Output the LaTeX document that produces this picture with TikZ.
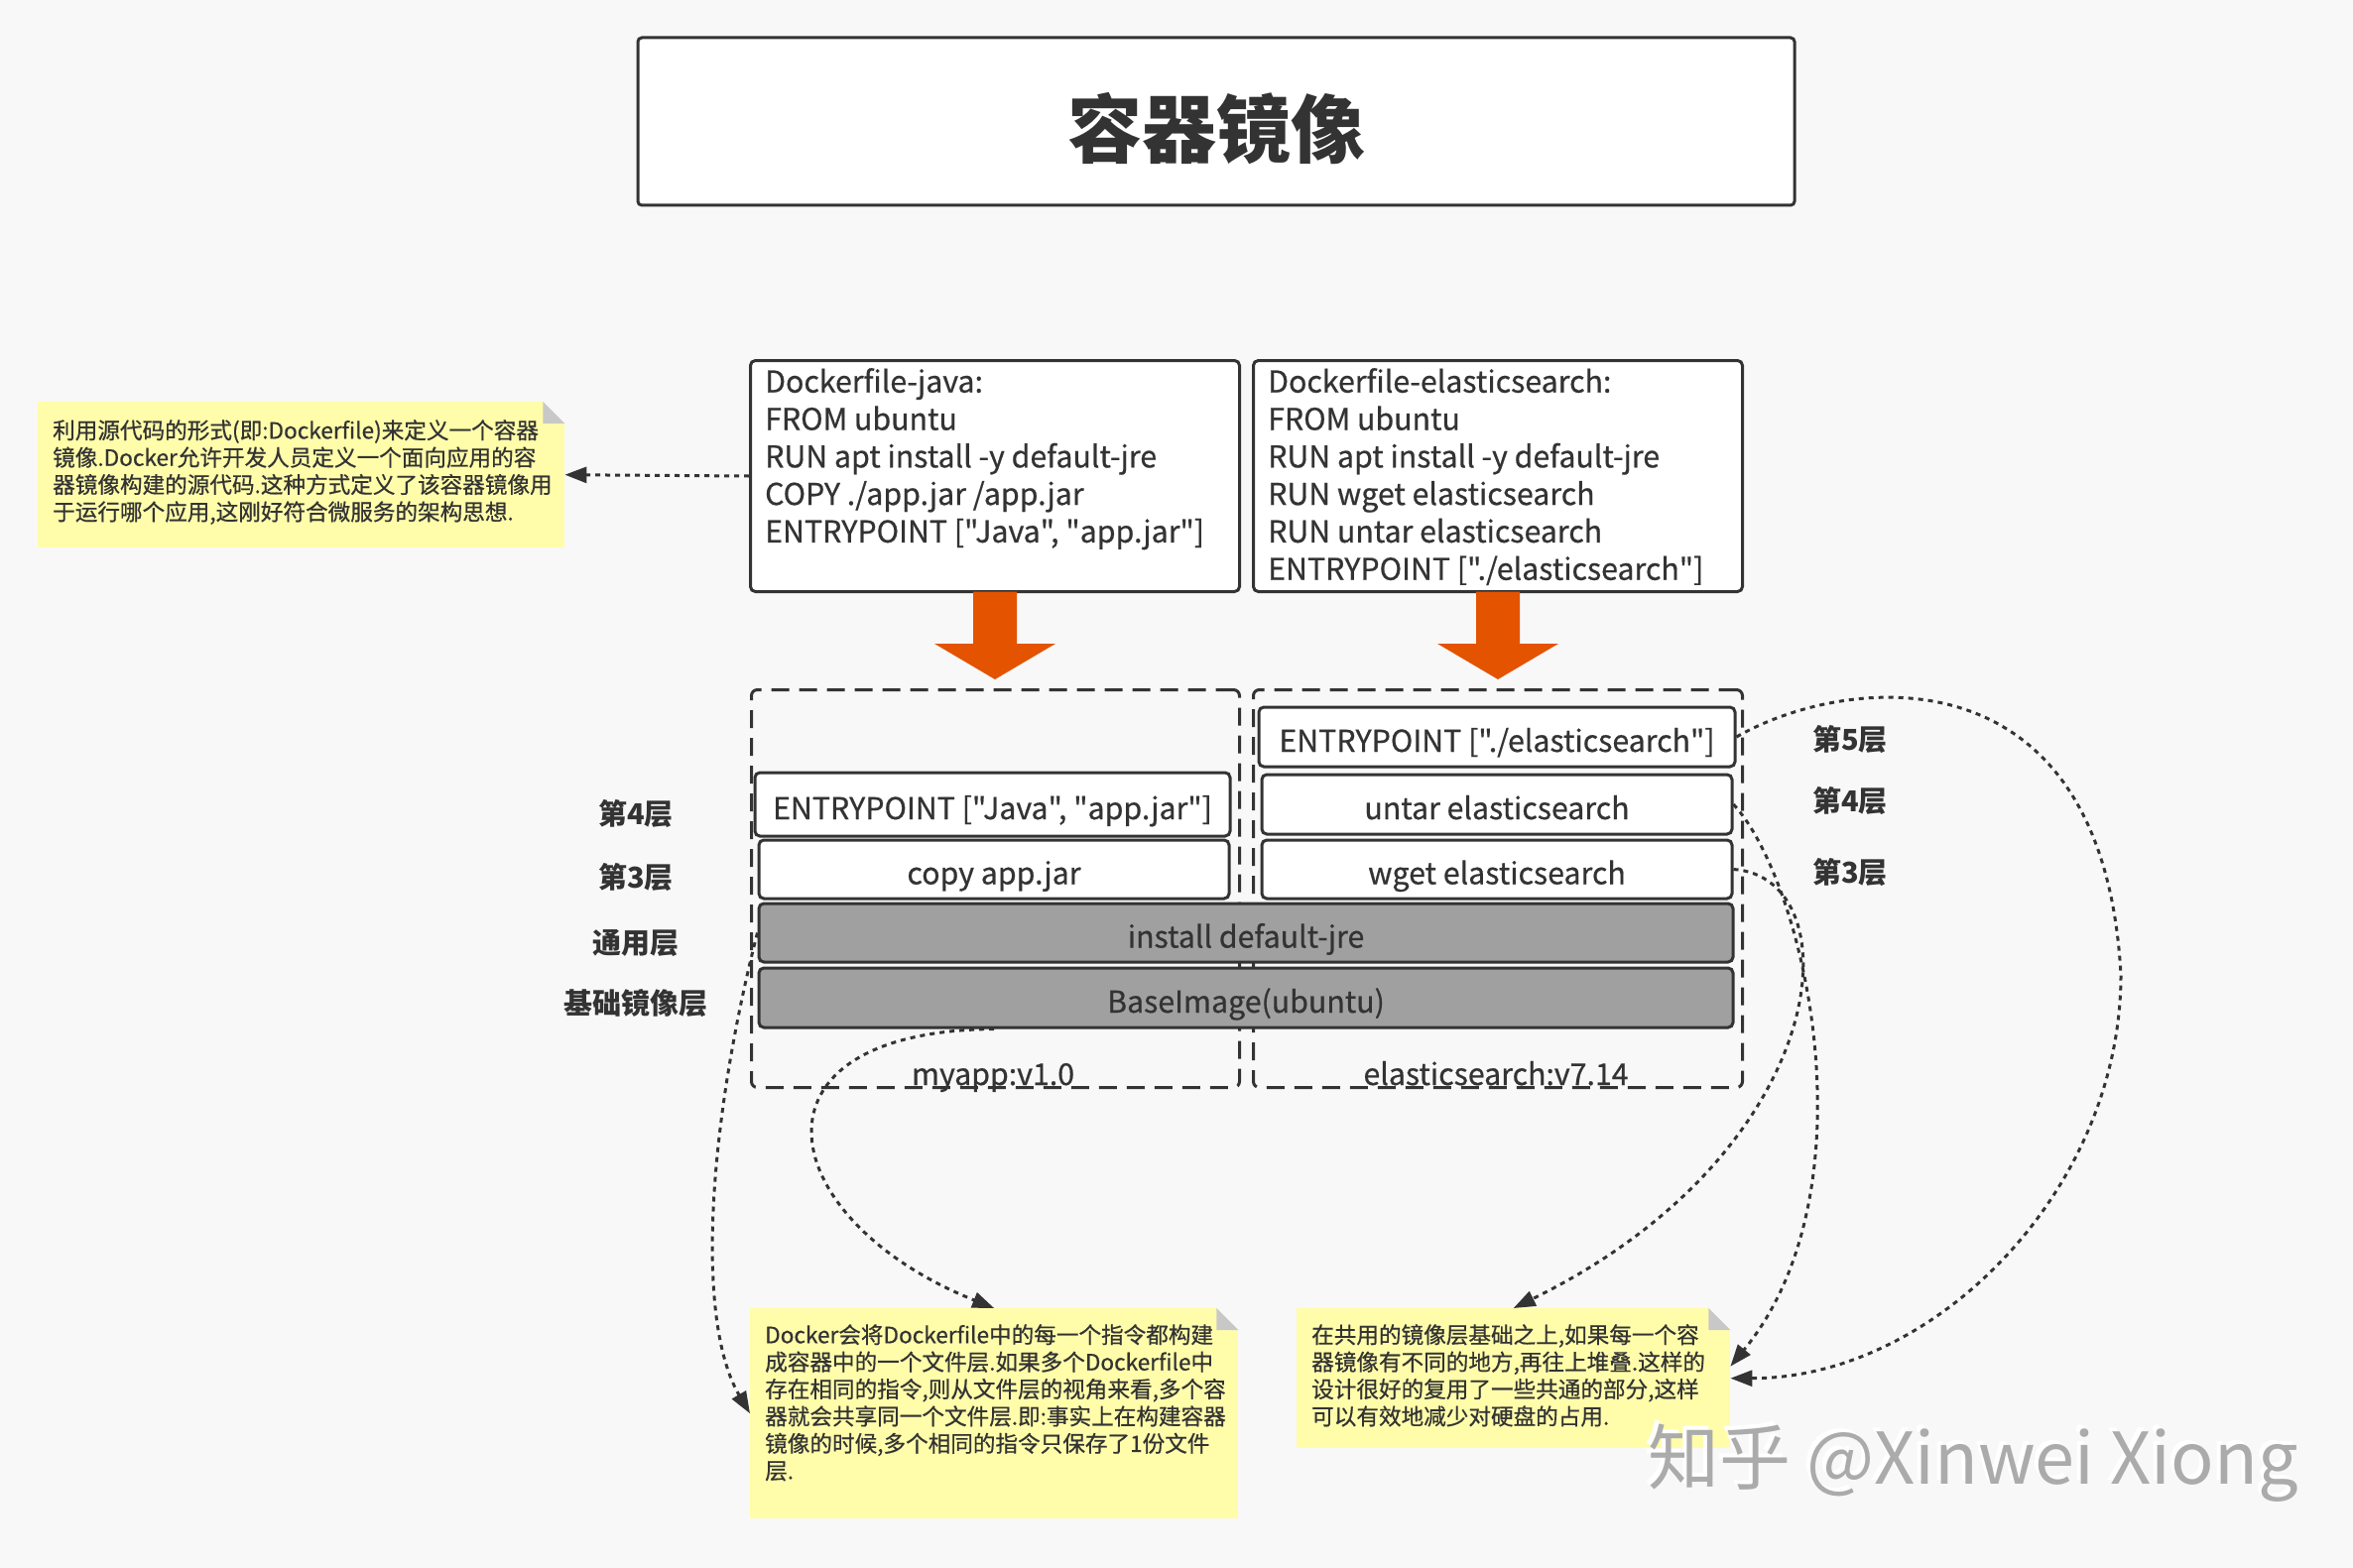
\documentclass[tikz,border=0pt]{standalone}
\usepackage{fontspec}
\setmainfont{Noto Sans CJK SC}[Ligatures=TeXOff]
\newfontfamily\medfont{Noto Sans CJK SC}[Ligatures=TeXOff, FakeBold=0.6]
\usetikzlibrary{arrows.meta,calc}
\definecolor{bg}{HTML}{F8F8F8}
\definecolor{ink}{HTML}{333333}
\definecolor{notey}{HTML}{FFFDAA}
\definecolor{foldgray}{HTML}{C8C8C8}
\definecolor{layergray}{HTML}{A0A0A0}
\definecolor{orangearr}{HTML}{E45300}
\definecolor{wmgray}{HTML}{ABABAB}
\tikzset{
  box/.style={draw=ink, line width=3pt, fill=white, rounded corners=5pt, inner sep=0pt},
  layer/.style={box, text=ink, inner sep=4pt, text height=30pt, text depth=0pt, font=\medfont\fontsize{30.3}{36}\selectfont},
  sharedlayer/.style={layer, fill=layergray},
  container/.style={draw=ink, line width=3pt, dash pattern=on 18pt off 10pt, rounded corners=6pt, inner sep=0pt},
  dftext/.style={anchor=north west, inner sep=0pt, align=left, text=ink, font=\medfont\fontsize{30.3}{37.8}\selectfont},
  notebox/.style={fill=notey, inner sep=0pt, anchor=north west},
  notetext/.style={anchor=north west, inner sep=0pt, align=left, text=ink, font=\medfont\fontsize{22.6}{27.4}\selectfont},
  lbl/.style={text=ink, inner sep=0pt, font=\bfseries\fontsize{29}{34}\selectfont},
  cname/.style={text=ink, inner sep=0pt, anchor=base, font=\medfont\fontsize{30.3}{36}\selectfont},
  link/.style={draw=ink, line width=3pt, dash pattern=on 5pt off 5pt, -{Triangle[length=22pt,width=16pt]}},
  blockarrow/.style={fill=orangearr},
}
\newcommand{\notefold}[1]{%
  \fill[bg] ($(#1.north east)+(-22,0)$) -- (#1.north east) -- ($(#1.north east)+(0,22)$) -- cycle;
  \fill[foldgray] ($(#1.north east)+(-22,0)$) -- ($(#1.north east)+(-22,22)$) -- ($(#1.north east)+(0,22)$) -- cycle;}
\begin{document}
\begin{tikzpicture}[x=1pt, y=-1pt]
\useasboundingbox (0,0) rectangle (2372,1581);
\fill[bg] (0,0) rectangle (2372,1581);

% title
\node[box, rounded corners=4pt, minimum width=1166pt, minimum height=169pt, text=ink,
      text height=72pt, text depth=0pt,
      font=\bfseries\fontsize{75}{80}\selectfont] (title) at (1226,122.5) {容器镜像};

% Dockerfile boxes
\node[box, minimum width=493pt, minimum height=233pt, anchor=north west] (javabox) at (755,362) {};
\node[box, minimum width=493pt, minimum height=233pt, anchor=north west] (esbox) at (1262,362) {};
\node[dftext] (javatext) at (771,371) {Dockerfile-java:\\FROM ubuntu\\RUN apt install -y default-jre\\COPY ./app.jar /app.jar\\ENTRYPOINT ["Java", "app.jar"]};
\node[dftext] (estext) at (1278,371) {Dockerfile-elasticsearch:\\FROM ubuntu\\RUN apt install -y default-jre\\RUN wget elasticsearch\\RUN untar elasticsearch\\ENTRYPOINT ["./elasticsearch"]};

% orange block arrows
\fill[blockarrow] ($(javabox.south)+(-22,-1.5)$) -- ($(javabox.south)+(-22,51)$) -- ($(javabox.south)+(-61,51)$)
   -- ($(javabox.south)+(0,87)$) -- ($(javabox.south)+(61,51)$) -- ($(javabox.south)+(22,51)$) -- ($(javabox.south)+(22,-1.5)$) -- cycle;
\fill[blockarrow] ($(esbox.south)+(-22,-1.5)$) -- ($(esbox.south)+(-22,51)$) -- ($(esbox.south)+(-61,51)$)
   -- ($(esbox.south)+(0,87)$) -- ($(esbox.south)+(61,51)$) -- ($(esbox.south)+(22,51)$) -- ($(esbox.south)+(22,-1.5)$) -- cycle;

% image containers
\node[container, minimum width=492pt, minimum height=401pt, anchor=north west] (jcont) at (756,694) {};
\node[container, minimum width=493pt, minimum height=401pt, anchor=north west] (econt) at (1262,694) {};

% layers
\node[layer, minimum width=479pt, minimum height=64pt] (jentry) at (1000.5,811) {ENTRYPOINT ["Java", "app.jar"]};
\node[layer, minimum width=474pt, minimum height=59pt] (jcopy) at (1002,876.5) {copy app.jar};
\node[layer, minimum width=480pt, minimum height=60pt] (eentry) at (1509,743) {ENTRYPOINT ["./elasticsearch"]};
\node[layer, minimum width=474pt, minimum height=60pt] (euntar) at (1509,811) {untar elasticsearch};
\node[layer, minimum width=474pt, minimum height=59pt] (ewget) at (1509,876.5) {wget elasticsearch};
\node[sharedlayer, minimum width=982pt, minimum height=59pt] (install) at (1256,940.5) {install default-jre};
\node[sharedlayer, minimum width=982pt, minimum height=60pt] (base) at (1256,1006) {BaseImage(ubuntu)};

\node[cname] (jname) at (1001,1094) {myapp:v1.0};
\node[cname] (ename) at (1508,1094) {elasticsearch:v7.14};

% layer labels
\node[lbl] (l4) at (641,821) {第4层};
\node[lbl] (l3) at (641,885) {第3层};
\node[lbl] (lcommon) at (641,951) {通用层};
\node[lbl] (lbase) at (641,1012) {基础镜像层};
\node[lbl] (r5) at (1865,746) {第5层};
\node[lbl] (r4) at (1865,808) {第4层};
\node[lbl] (r3) at (1865,880) {第3层};

% notes
\node[notebox, minimum width=531pt, minimum height=147pt] (note1) at (38,405) {};
\notefold{note1}
\node[notetext] (note1t) at (53,423) {利用源代码的形式(即:Dockerfile)来定义一个容器\\镜像.Docker允许开发人员定义一个面向应用的容\\器镜像构建的源代码.这种方式定义了该容器镜像用\\于运行哪个应用,这刚好符合微服务的架构思想.};

\node[notebox, minimum width=492pt, minimum height=212pt] (note2) at (756,1319) {};
\notefold{note2}
\node[notetext] (note2t) at (771,1335) {Docker会将Dockerfile中的每一个指令都构建\\成容器中的一个文件层.如果多个Dockerfile中\\存在相同的指令,则从文件层的视角来看,多个容\\器就会共享同一个文件层.即:事实上在构建容器\\镜像的时候,多个相同的指令只保存了1份文件\\层.};

\node[notebox, minimum width=437pt, minimum height=141pt] (note3) at (1307,1319) {};
\notefold{note3}
\node[notetext] (note3t) at (1322,1335) {在共用的镜像层基础之上,如果每一个容\\器镜像有不同的地方,再往上堆叠.这样的\\设计很好的复用了一些共通的部分,这样\\可以有效地减少对硬盘的占用.};

% connectors
\coordinate (loopR) at (2138,983);
\draw[link] (javabox.west) -- (note1.east);
\draw[link] (install.west) .. controls (715,1130) and (700,1330) .. (note2.west);
\draw[link] (base.south -| jcopy.south) .. controls (740,1040) and (780,1230) .. (note2.north);
\draw[link] (ewget.east) .. controls (1870,885) and (1850,1160) .. (note3.north);
\draw[link] (euntar.east) .. controls (1820,890) and (1890,1200) .. ([yshift=12pt]note3.east);
\draw[link] (eentry.east) .. controls (1860,680) and (2120,650) .. (loopR) .. controls (2138,1200) and (1950,1390) .. (note3.east);

% watermark
\node[text=white, font=\fontsize{72}{76}\selectfont, inner sep=0pt] (wmhi) at (1985,1471) {知乎 @Xinwei Xiong};
\node[text=wmgray, font=\fontsize{72}{76}\selectfont, inner sep=0pt] (wm) at (1989,1475) {知乎 @Xinwei Xiong};
\end{tikzpicture}
\end{document}
